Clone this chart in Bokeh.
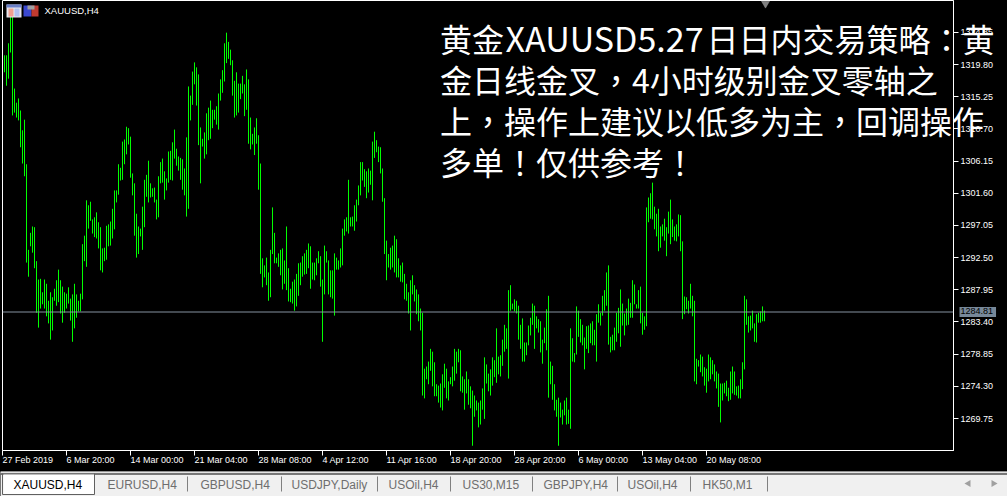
import math
from bokeh.plotting import figure
from bokeh.models import ColumnDataSource, FixedTicker, Label, Range1d, Span
from bokeh.core.properties import value
from bokeh.embed import file_html
from bokeh.resources import INLINE

high = [
1321.1,1321.1,1322.8,1327.2,1326.9,1316.4,1314.4,1315.0,1313.3,1310.5,1312.0,1305.7,1293.6,1296.0,1296.9,1296.8,1292.0,1289.4,1289.5,1287.6,
1289.4,1288.8,1286.4,1287.6,1286.9,1288.1,1289.3,1290.8,1289.3,1288.4,1287.6,1287.4,1288.3,1286.7,1287.3,1288.8,1287.3,1286.4,1287.4,1294.4,
1295.6,1300.6,1299.9,1300.4,1297.9,1298.2,1298.9,1297.5,1296.8,1293.8,1293.9,1297.0,1297.2,1297.6,1299.4,1302.0,1302.0,1305.7,1305.2,1308.9,
1309.2,1311.0,1310.8,1309.6,1304.4,1303.0,1298.7,1296.9,1296.6,1299.7,1303.5,1304.2,1306.2,1303.0,1302.3,1302.4,1300.7,1304.0,1306.0,1306.5,
1304.7,1303.7,1307.5,1307.6,1308.8,1310.6,1307.9,1306.8,1306.6,1306.4,1305.1,1309.5,1316.7,1315.4,1318.8,1320.1,1319.4,1318.4,1310.9,1309.3,
1310.2,1312.9,1313.7,1314.7,1313.4,1313.4,1313.9,1315.7,1317.7,1319.0,1322.8,1324.3,1323.0,1321.9,1320.4,1317.5,1318.7,1317.1,1317.1,1318.2,
1317.0,1319.1,1317.7,1312.3,1310.0,1310.9,1312.2,1309.8,1305.8,1292.4,1291.4,1292.5,1290.4,1293.6,1299.6,1296.0,1292.5,1293.1,1293.6,1293.8,
1292.1,1296.9,1291.0,1288.1,1289.1,1289.4,1290.2,1291.7,1291.8,1292.7,1293.1,1293.6,1294.5,1294.1,1291.8,1291.8,1292.4,1293.4,1292.7,1289.4,
1294.2,1293.4,1292.1,1290.7,1290.7,1293.1,1292.5,1292.1,1293.8,1296.6,1297.9,1298.2,1303.5,1298.2,1298.3,1299.9,1300.7,1302.7,1306.0,1306.0,
1305.0,1304.7,1305.1,1304.8,1308.9,1310.3,1309.1,1308.2,1308.1,1305.1,1300.9,1294.9,1293.0,1293.9,1294.2,1295.6,1295.1,1292.4,1291.4,1291.8,
1290.2,1288.8,1287.6,1289.3,1290.0,1288.6,1288.0,1287.3,1285.3,1284.7,1276.8,1277.1,1277.8,1279.6,1279.2,1277.7,1274.6,1274.4,1274.7,1276.0,
1277.5,1276.8,1275.0,1275.6,1277.1,1279.6,1279.2,1279.6,1279.4,1275.7,1275.3,1276.4,1275.3,1274.3,1273.7,1273.0,1272.3,1272.0,1272.3,1274.0,
1278.4,1277.4,1276.1,1276.7,1278.4,1278.0,1282.5,1278.5,1278.7,1280.9,1283.0,1282.5,1287.9,1288.6,1286.0,1286.6,1286.4,1285.7,1283.0,1283.9,
1280.5,1280.5,1282.9,1284.0,1286.0,1285.7,1284.2,1283.8,1283.5,1280.9,1282.6,1285.2,1287.1,1277.8,1277.2,1274.6,1272.4,1272.7,1272.0,1271.0,
1272.3,1272.7,1271.0,1282.5,1281.1,1279.0,1285.6,1285.0,1283.8,1283.0,1281.2,1282.8,1282.9,1283.2,1283.5,1282.3,1284.5,1285.9,1284.7,1287.1,
1287.9,1290.4,1291.4,1281.3,1281.6,1282.6,1284.7,1285.4,1288.0,1286.0,1284.6,1285.3,1286.7,1286.1,1289.3,1288.7,1285.9,1287.9,1288.4,1284.7,
1284.2,1299.6,1301.0,1301.6,1303.1,1299.7,1298.7,1299.4,1296.9,1297.2,1298.0,1296.8,1299.0,1300.7,1297.9,1296.9,1297.2,1298.6,1298.5,1294.8,
1287.0,1286.9,1286.4,1288.8,1287.1,1286.4,1278.2,1278.0,1278.8,1278.5,1277.0,1276.8,1278.8,1278.4,1278.0,1277.4,1276.4,1276.1,1274.7,1274.7,
1274.8,1275.1,1274.1,1276.4,1277.1,1276.4,1274.3,1274.4,1275.3,1277.7,1287.1,1286.6,1284.2,1284.3,1285.0,1283.2,1284.5,1284.7,1284.9,1285.6,
1285.0]
low = [
1318.7,1316.8,1317.8,1321.5,1312.6,1313.0,1312.3,1311.9,1308.1,1305.8,1304.0,1291.8,1289.8,1294.1,1293.2,1291.0,1284.7,1282.6,1285.3,1285.9,
1285.3,1284.2,1283.2,1280.9,1282.2,1286.4,1285.7,1286.2,1284.6,1283.3,1284.7,1285.3,1286.0,1283.6,1280.6,1282.5,1284.0,1284.9,1284.9,1286.6,
1292.0,1291.2,1296.6,1297.7,1295.9,1295.4,1295.2,1293.8,1290.7,1290.4,1292.0,1292.2,1294.1,1294.2,1295.2,1296.5,1300.3,1301.4,1303.4,1303.5,
1305.7,1307.1,1308.5,1303.8,1301.3,1295.6,1292.5,1293.0,1295.5,1293.6,1296.8,1301.1,1300.3,1301.0,1301.1,1300.3,1297.9,1298.2,1303.0,1303.1,
1300.7,1302.0,1303.1,1303.5,1303.4,1306.5,1305.5,1304.8,1303.5,1302.1,1301.3,1298.3,1299.4,1311.9,1314.1,1317.0,1314.0,1308.4,1303.0,1308.2,
1306.5,1307.1,1309.1,1309.3,1310.8,1312.0,1311.3,1310.6,1314.7,1315.8,1317.4,1320.0,1320.6,1319.7,1315.4,1312.3,1312.6,1313.0,1314.9,1315.7,
1312.5,1313.4,1308.6,1307.8,1308.5,1307.0,1308.6,1302.1,1290.2,1288.3,1289.7,1288.6,1286.4,1286.9,1293.0,1291.7,1291.7,1291.2,1290.0,1288.0,
1288.8,1287.9,1286.3,1286.2,1286.0,1285.0,1285.6,1287.1,1288.6,1289.8,1290.1,1290.2,1291.0,1288.1,1289.4,1289.3,1290.0,1291.7,1288.4,1280.6,
1287.3,1291.8,1287.3,1286.9,1286.7,1284.3,1290.8,1290.8,1291.1,1291.4,1295.6,1296.2,1295.9,1296.9,1296.9,1296.3,1297.6,1299.9,1301.3,1303.4,
1302.5,1300.9,1301.7,1302.8,1300.6,1306.6,1307.4,1306.0,1304.4,1300.4,1293.0,1289.3,1291.1,1290.8,1291.1,1290.4,1289.7,1289.7,1289.1,1289.0,
1286.6,1286.4,1284.6,1282.2,1287.3,1286.3,1284.5,1283.5,1282.2,1273.0,1272.6,1275.3,1274.6,1276.5,1274.3,1272.9,1272.9,1272.0,1271.3,1270.9,
1274.1,1272.6,1272.3,1274.6,1274.3,1275.1,1276.1,1277.7,1273.6,1273.4,1271.0,1273.3,1271.7,1271.2,1265.9,1270.0,1270.9,1268.5,1268.9,1271.0,
1269.7,1274.7,1273.6,1273.0,1274.4,1275.6,1274.8,1276.0,1275.7,1277.2,1279.2,1279.6,1275.4,1285.0,1285.2,1284.9,1284.6,1280.9,1279.6,1277.8,
1277.8,1278.7,1280.1,1281.5,1283.0,1279.6,1282.5,1281.9,1279.1,1277.5,1280.4,1279.4,1272.7,1274.6,1272.4,1270.9,1270.0,1265.9,1269.9,1268.9,
1270.2,1268.9,1269.0,1268.3,1277.8,1277.7,1278.8,1281.3,1280.5,1280.1,1276.7,1279.6,1279.0,1280.4,1280.1,1280.1,1277.8,1283.3,1282.9,1284.3,
1285.0,1285.7,1280.2,1279.1,1279.4,1279.4,1280.6,1281.8,1279.9,1282.9,1281.5,1282.9,1283.0,1284.0,1284.0,1285.9,1285.3,1285.3,1283.2,1281.6,
1282.3,1282.8,1297.5,1298.0,1297.9,1296.5,1295.5,1293.4,1293.9,1295.5,1294.9,1292.7,1295.9,1294.4,1295.4,1294.9,1294.8,1295.5,1293.4,1283.8,
1284.5,1285.2,1284.6,1285.3,1284.2,1275.0,1274.6,1277.1,1276.3,1275.7,1274.4,1273.4,1275.0,1275.3,1276.0,1275.0,1274.0,1271.4,1269.2,1272.3,
1273.3,1272.9,1272.2,1272.4,1273.3,1273.1,1273.0,1272.6,1272.6,1273.9,1276.7,1283.0,1281.9,1282.2,1282.5,1280.6,1280.5,1283.3,1283.3,1283.5,
1283.5]
price_ticks = [1324.35,1319.80,1315.25,1310.70,1306.15,1301.60,1297.05,1292.50,1287.95,1283.40,1278.85,1274.30,1269.75]
last_price = 1284.81
time_tick_bars = [-1,31,63,95,127,159,191,223,255,287,319,351]
time_labels = ["27 Feb 2019","6 Mar 20:00","14 Mar 00:00","21 Mar 04:00","28 Mar 08:00","4 Apr 12:00",
               "11 Apr 16:00","18 Apr 20:00","28 Apr 20:00","6 May 00:00","13 May 04:00","20 May 08:00"]
# note text: (text, left px, font px, centre px); full-width punctuation is set apart so it sits mid-cell
note_parts = [("黄金",439.5,32,37),("XAUUSD5.27",505,34,37),("日日内交易策略",706,32,37),("：",930,32,37),("黄",962,32,37),
              ("金日线金叉",439.5,32,78),("，",599.5,32,78),("4小时级别金叉零轴之",631.5,32,78),
              ("上",439.5,32,119),("，",471.5,32,119),("操作上建议以低多为主",503.5,32,119),("，",823.5,32,119),("回调操作",855.5,32,119),
              ("多单",439.5,32,160),("！",503.5,32,160),("仅供参考",535.5,32,160),("！",663.5,32,160)]
PUNCT = "，：！"
tab_names = ["XAUUSD,H4","EURUSD,H4","GBPUSD,H4","USDJPY,Daily","USOil,H4","US30,M15","GBPJPY,H4","USOil,H4","HK50,M1"]
tab_text_x = [13,107,200,291,388,462,543,627,702]
tab_seps = [187,281,377,450,532,617,690,767]

Y_TOP, Y_BOT = 1328.85, 1265.23
X_LEFT = -1.0
X_RIGHT = X_LEFT + 951/2
px = lambda x: X_LEFT + (x-2)/2
py = lambda y: Y_TOP - y*(Y_TOP-Y_BOT)/450
SANS = "Liberation Sans"

p = figure(width=1007, height=471, frame_width=951, frame_height=450, output_backend="svg", toolbar_location=None,
           x_range=Range1d(X_LEFT, X_RIGHT), y_range=Range1d(Y_BOT, Y_TOP),
           y_axis_location="right", min_border_left=2, min_border_right=54,
           min_border_top=0, min_border_bottom=21,
           background_fill_color="#000000", border_fill_color="#000000",
           outline_line_color="#ffffff", outline_line_width=1)
p.grid.visible = False

bars = ColumnDataSource(dict(i=list(range(len(high))), high=high, low=low))
p.segment(x0="i", y0="low", x1="i", y1="high", source=bars, line_color="#00ff00", line_width=1)
p.add_layout(Span(location=last_price, dimension="width", line_color="#8592a0", line_width=1))

for ax in (p.xaxis[0], p.yaxis[0]):
    ax.axis_line_color = "#ffffff"
    ax.major_tick_line_color = "#ffffff"
    ax.major_tick_in = 0
    ax.major_tick_out = 5
    ax.minor_tick_line_color = None
p.xaxis[0].ticker = FixedTicker(ticks=time_tick_bars)
p.xaxis[0].major_label_overrides = {t: "" for t in time_tick_bars}
p.yaxis[0].ticker = FixedTicker(ticks=price_ticks)
p.yaxis[0].major_label_overrides = {t: f"{t:.2f}" for t in price_ticks}
p.yaxis[0].major_label_text_color = "#ffffff"
p.yaxis[0].major_label_text_font = SANS
p.yaxis[0].major_label_text_font_size = "9px"
p.yaxis[0].major_label_standoff = 2

for b, lab in zip(time_tick_bars, time_labels):
    p.add_layout(Label(x=b, y=py(459), text=lab, text_color="#ffffff", text_font=SANS,
                       text_font_size="9px", text_baseline="middle", text_align="left", level="overlay"), "below")

p.add_layout(Label(x=px(956), y=last_price, text=f"{last_price:.2f}", text_color="#000000", text_font=SANS,
                   text_font_size="9px", text_baseline="middle", x_offset=3, level="overlay",
                   background_fill_color="#778899", padding=[1, 3, 1, 3]), "below")

def box(x0, y0, x1, y1, c):
    p.quad(left=px(x0), right=px(x1), top=py(y0), bottom=py(y1), fill_color=c, line_color=None)
box(6, 4, 21, 17, "#e8e8f0"); box(6, 4, 21, 7, "#6a7fc8"); box(8, 8, 13, 16, "#f0a090"); box(14, 8, 19, 16, "#b0c0f0")
box(23, 5, 31, 16, "#3a48d0"); box(31, 5, 38, 16, "#c03a30"); box(27, 5, 34, 9, "#a0a0a0")
p.add_layout(Label(x=px(44), y=py(10), text="XAUUSD,H4", text_color="#ffffff", text_font=SANS,
                   text_font_size="9.5px", text_baseline="middle", level="overlay"))
p.scatter(x=[px(765)], y=[py(3)], marker="inverted_triangle", size=8, fill_color="#808080", line_color="#a0a0a0", line_width=0.5)

for part, xl, size, yc in note_parts:
    font = "Noto Sans CJK TC" if part in PUNCT else "Noto Sans CJK SC"
    p.add_layout(Label(x=px(xl), y=py(yc), text=part, text_color="#ffffff", text_font=font,
                       text_font_size=f"{size}px", text_baseline="middle", level="overlay"), "below")

t = figure(width=1007, height=25, output_backend="svg", toolbar_location=None,
           x_range=Range1d(0, 1007), y_range=Range1d(25, 0), min_border=0,
           background_fill_color="#f0f0f0", border_fill_color="#f0f0f0", outline_line_color=None,
           styles={"position": "absolute", "top": "471px", "left": "0px"})
t.axis.visible = False
t.grid.visible = False
t.quad(left=0, right=1007, top=0, bottom=2, fill_color="#e4e4e4", line_color=None)
t.quad(left=0, right=1007, top=2, bottom=3, fill_color="#000000", line_color=None)
t.quad(left=3, right=94, top=3, bottom=23, fill_color="#ffffff", line_color=None)
t.segment(x0=[2, 94, 2], y0=[2, 2, 23], x1=[2, 94, 94], y1=[23, 23, 23], line_color="#606060", line_width=1)
t.segment(x0=tab_seps, y0=[5]*len(tab_seps), x1=tab_seps, y1=[20]*len(tab_seps), line_color="#808080", line_width=1)
t.text(x=tab_text_x, y=[13]*len(tab_names), text=tab_names, text_font=value(SANS), text_font_size="12px",
       text_baseline="middle", text_color=["#000000"]+["#6e6e6e"]*(len(tab_names)-1))
t.scatter(x=[968, 993], y=[12, 12], marker="triangle", size=7, angle=[math.pi/2, -math.pi/2],
          fill_color="#a0a0a0", line_color=None)

TEMPLATE = "{% block postamble %}<style>html,body{margin:0;padding:0;background:#000;overflow:hidden}</style>{% endblock %}"
open("out.html", "w").write(file_html([p, t], INLINE, template=TEMPLATE))
